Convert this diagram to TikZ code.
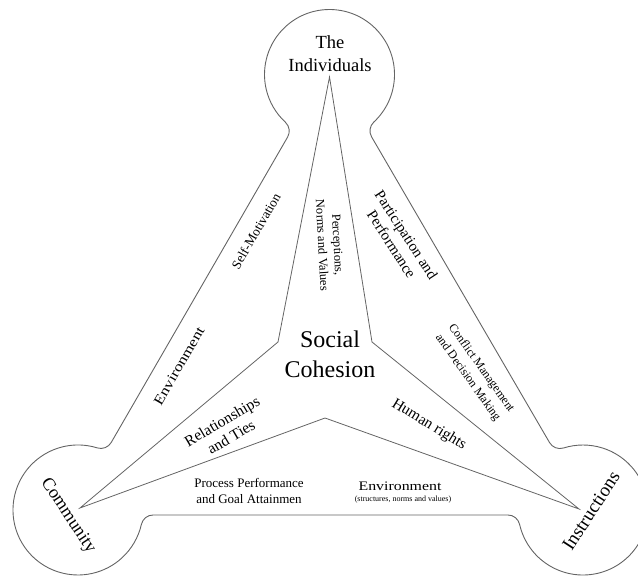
\documentclass[tikz,border=0pt]{standalone}
\usepackage{fontspec}
\setmainfont{Liberation Serif}
\definecolor{linegray}{RGB}{100,100,100}
\begin{document}
\begin{tikzpicture}[x=1pt,y=1pt,
  outline/.style={draw=linegray, line width=0.9pt},
  ray/.style={draw=linegray, line width=0.8pt},
  lbl/.style={inner sep=0pt, align=center, text=black},
]
\useasboundingbox (0,0) rectangle (638,576);

% centres of the three lobes
\coordinate (T) at (329.5,501.5);
\coordinate (L) at (78,66);
\coordinate (R) at (583,66);

% end points of the straight sides (where the small fillets begin)
\coordinate (qTR) at (373.8,453.92);
\coordinate (pLT) at (111.23,133.54);
\coordinate (pRB) at (507.9,61);
\coordinate (pTR) at (371.6,439.11);

% outer boundary: three round lobes joined by straight sides with concave fillets
\draw[outline] (qTR)
  arc[start angle=-47.04, end angle=227.24, radius=65]
  arc[start angle=47.26, end angle=-30, radius=12]
  -- (pLT)
  arc[start angle=-30, end angle=-107.26, radius=12]
  arc[start angle=72.75, end angle=347.25, radius=65]
  arc[start angle=167.24, end angle=90, radius=12]
  -- (pRB)
  arc[start angle=90, end angle=12.76, radius=12]
  arc[start angle=-167.25, end angle=107.45, radius=65]
  arc[start angle=-72.58, end angle=-149.82, radius=12]
  -- (pTR)
  arc[start angle=210.18, end angle=132.94, radius=12]
  -- cycle;

% inner three-pointed star
\coordinate (apex) at (329.5,499);
\coordinate (inR) at (372,234);
\coordinate (tipR) at (579,67);
\coordinate (inB) at (325,158);
\coordinate (tipL) at (80,68);
\coordinate (inL) at (278,234);
\draw[ray] (apex) -- (inR) -- (tipR) -- (inB) -- (tipL) -- (inL) -- cycle;

% lobe titles
\node[lbl, font=\fontsize{18.5}{23}\selectfont] (indiv) at (330,522) {The\\Individuals};
\node[lbl, font=\fontsize{18}{22}\selectfont, rotate=-56.5] (comm) at (68,60) {Community};
\node[lbl, font=\fontsize{19}{23}\selectfont, rotate=57] (instr) at (591,65) {Instructions};

% centre
\node[lbl, font=\fontsize{24}{30}\selectfont] (soc) at (330,222) {Social\\Cohesion};

% side labels
\node[lbl, font=\fontsize{13.3}{16}\selectfont, rotate=60] (selfm) at (256,345) {Self-Motivation};
\node[lbl, font=\fontsize{14}{17}\selectfont, rotate=60] (envl) at (179,210) {\scalebox{1.2}[1]{Environment}};
\node[lbl, font=\fontsize{15}{17.5}\selectfont, rotate=-57] (part) at (399,336.5) {Participation and\\Performance};
\node[lbl, font=\fontsize{12}{16.5}\selectfont, rotate=-54.5] (confl) at (474.5,203) {Conflict Management\\and Decision Making};
\node[lbl, font=\fontsize{12.5}{15.5}\selectfont, rotate=-87] (perc) at (330,331) {Perceptions,\\Norms and Values};
\node[lbl, font=\fontsize{15.5}{18}\selectfont, rotate=30.5] (rel) at (226.5,147) {Relationships\\and Ties};
\node[lbl, font=\fontsize{15.4}{18}\selectfont, rotate=-31.4] (hum) at (429,151) {Human rights};
\node[lbl, font=\fontsize{13}{15.5}\selectfont] (proc) at (249,85) {Process Performance\\and Goal Attainmen};
\node[lbl, font=\fontsize{13}{15}\selectfont] (envb) at (400,90) {\scalebox{1.22}[1]{Environment}};
\node[lbl, font=\fontsize{8}{10}\selectfont] (envs) at (403,76) {(structures, norms and values)};
\end{tikzpicture}
\end{document}
